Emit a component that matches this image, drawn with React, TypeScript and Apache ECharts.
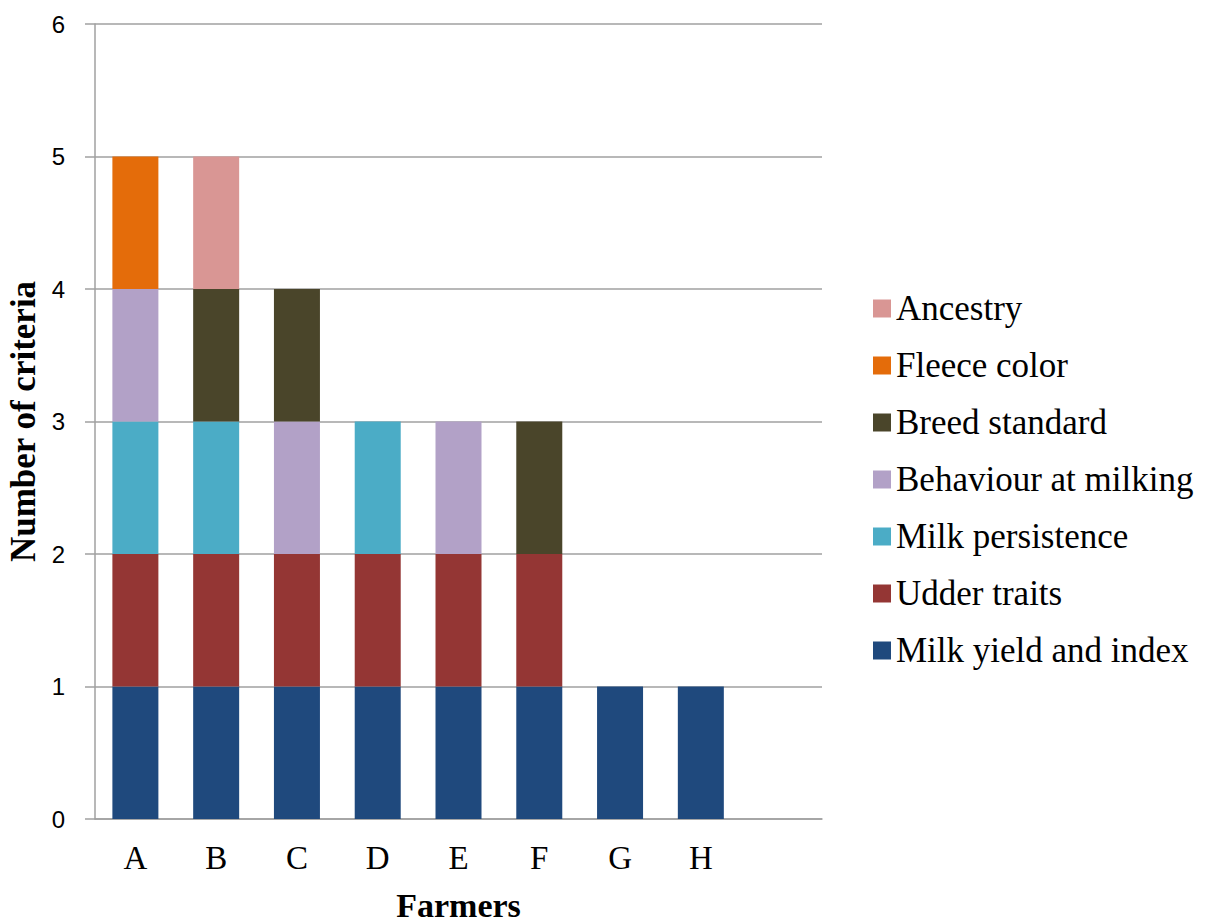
import React, { useEffect, useRef } from "react";
import * as echarts from "echarts";

const categories = ["A", "B", "C", "D", "E", "F", "G", "H", ""];
const yTicks = { min: 0, max: 6, interval: 1 };

const milkYield = [1, 1, 1, 1, 1, 1, 1, 1, null];
const udderTraits = [1, 1, 1, 1, 1, 1, null, null, null];
const milkPersistence = [1, 1, null, 1, null, null, null, null, null];
const behaviourAtMilking = [1, null, 1, null, 1, null, null, null, null];
const breedStandard = [null, 1, 1, null, null, 1, null, null, null];
const fleeceColor = [1, null, null, null, null, null, null, null, null];
const ancestry = [null, 1, null, null, null, null, null, null, null];

const seriesDefs = [
  { name: "Milk yield and index", data: milkYield, color: "#1F497D" },
  { name: "Udder traits", data: udderTraits, color: "#943634" },
  { name: "Milk persistence", data: milkPersistence, color: "#4BACC6" },
  { name: "Behaviour at milking", data: behaviourAtMilking, color: "#B2A1C7" },
  { name: "Breed standard", data: breedStandard, color: "#4A452A" },
  { name: "Fleece color", data: fleeceColor, color: "#E46C0A" },
  { name: "Ancestry", data: ancestry, color: "#D99694" },
];

const serif = "'Liberation Serif', 'Times New Roman', serif";
const sans = "'Liberation Sans', Arial, sans-serif";
const gray = "#A0A0A0";

export default function App() {
  const ref = useRef<HTMLDivElement>(null);
  useEffect(() => {
    document.body.style.margin = "0";
    document.body.style.overflow = "hidden";
    document.documentElement.style.overflow = "hidden";
    const chart = echarts.init(ref.current!, undefined, { renderer: "svg" });
    chart.setOption({
      animation: false,
      backgroundColor: "#ffffff",
      grid: {
        left: 95,
        right: 385,
        top: 24,
        bottom: 105,
        containLabel: false,
        outerBoundsMode: "none",
      },
      legend: {
        orient: "vertical",
        left: 868,
        top: 286,
        itemWidth: 18,
        itemHeight: 18,
        itemGap: 22,
        icon: "rect",
        data: seriesDefs.map((s) => s.name).reverse(),
        textStyle: { fontFamily: serif, fontSize: 35, lineHeight: 35, color: "#000" },
      },
      xAxis: {
        type: "category",
        data: categories,
        name: "Farmers",
        nameLocation: "middle",
        nameGap: 70,
        nameTextStyle: {
          fontFamily: serif,
          fontSize: 34,
          lineHeight: 32,
          fontWeight: "bold",
          color: "#000",
        },
        axisLine: { lineStyle: { color: gray, width: 1.5 } },
        axisTick: { show: false },
        axisLabel: { fontFamily: serif, fontSize: 33, color: "#000", margin: 22 },
      },
      yAxis: {
        type: "value",
        min: yTicks.min,
        max: yTicks.max,
        interval: yTicks.interval,
        name: "Number of criteria",
        nameLocation: "middle",
        nameGap: 55,
        nameTextStyle: {
          fontFamily: serif,
          fontSize: 35,
          lineHeight: 34,
          fontWeight: "bold",
          color: "#000",
        },
        axisLine: { show: true, lineStyle: { color: gray, width: 1.5 } },
        axisTick: { show: true, length: 10, lineStyle: { color: gray, width: 1.5 } },
        axisLabel: { fontFamily: sans, fontSize: 24, color: "#000", margin: 30 },
        splitLine: { lineStyle: { color: gray, width: 1.5 } },
      },
      series: seriesDefs.map((s) => ({
        name: s.name,
        type: "bar",
        stack: "total",
        data: s.data,
        barWidth: 46,
        itemStyle: { color: s.color },
      })),
    });
    return () => chart.dispose();
  }, []);
  return (
    <div
      ref={ref}
      style={{ position: "absolute", left: 0, top: 0, width: 1207, height: 924 }}
    />
  );
}
